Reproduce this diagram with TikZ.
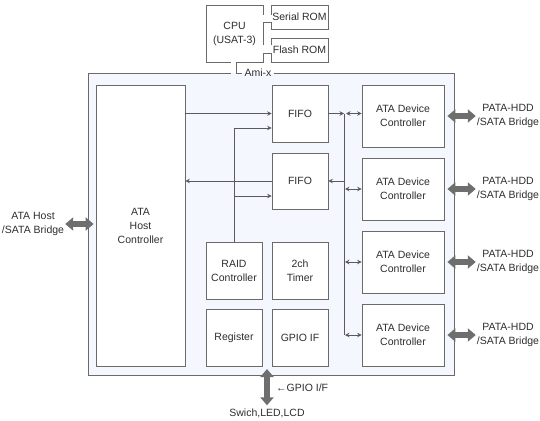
\documentclass[tikz,border=0pt]{standalone}
\usepackage{fontspec}
\setmainfont{Liberation Sans}
\usetikzlibrary{arrows.meta, positioning}
\definecolor{linec}{HTML}{5A5A5A}
\definecolor{boxc}{HTML}{6A6A6A}
\definecolor{amifill}{HTML}{F4F7FE}
\definecolor{fatc}{HTML}{6E6E6E}
\definecolor{txtc}{HTML}{2E2E2E}
\begin{document}
\begin{tikzpicture}[x=1pt, y=-1pt, >={Stealth[length=4.5pt,width=4.5pt,inset=1.6pt]},
  font=\fontsize{10.5}{14}\selectfont, text=txtc,
  blk/.style={draw=boxc, line width=.8pt, fill=white, align=center, inner sep=0pt},
  chan/.style={draw=boxc, line width=.8pt, fill=white},
  sig/.style={draw=linec, line width=.7pt, ->},
  bidir/.style={draw=linec, line width=.7pt, <->},
  fat/.style={draw=fatc, line width=5.5pt, {Triangle[length=8pt,width=13pt]}-{Triangle[length=8pt,width=13pt]}},
  lbl/.style={align=center, inner sep=1pt}]
\useasboundingbox (0,0) rectangle (540,420);

\node[blk, fill=amifill, minimum width=366pt, minimum height=302pt] (amix) at (271,224) {};

% CPU and ROMs
\node[blk, minimum width=57pt, minimum height=57pt] (cpu) at (234.5,33.5) {CPU\\(USAT-3)};
\node[blk, minimum width=57pt, minimum height=24pt] (srom) at (299.5,17) {Serial ROM};
\node[blk, minimum width=57pt, minimum height=24pt] (from) at (299.5,50) {Flash ROM};
\draw[chan] (263,15) rectangle (271,22);
\fill[white] (262.4,15.4) rectangle (271.6,21.6);
\draw[chan] (263,45) rectangle (271,53);
\fill[white] (262.4,45.4) rectangle (271.6,52.6);
\draw[chan] (231,62) rectangle (236,73);
\fill[white] (231.4,61.6) rectangle (235.6,73);
\fill[amifill] (231.4,73) rectangle (235.6,73.6);
\node[inner xsep=3pt, inner ysep=1pt, fill=amifill,
  path picture={\fill[white] (path picture bounding box.north west) rectangle (path picture bounding box.east);}]
  (amixlbl) at (258,73) {Ami-x};

% blocks
\node[blk, minimum width=89pt, minimum height=281pt] (host) at (140.5,225.5) {ATA\\Host\\Controller};
\node[blk, minimum width=56pt, minimum height=57pt] (fifoA) at (300,113.5) {FIFO};
\node[blk, minimum width=56pt, minimum height=56pt] (fifoB) at (300,181) {FIFO};
\node[blk, minimum width=56pt, minimum height=57pt] (raid) at (234,270.5) {RAID\\Controller};
\node[blk, minimum width=56pt, minimum height=57pt] (timer) at (300,270.5) {2ch\\Timer};
\node[blk, minimum width=56pt, minimum height=57pt] (reg) at (234,337.5) {Register};
\node[blk, minimum width=56pt, minimum height=57pt] (gpio) at (300,337.5) {GPIO IF};
\foreach \i/\y in {1/116,2/189,3/262,4/335}{
  \node[blk, minimum width=82pt, minimum height=62pt] (dc\i) at (403,\y) {ATA Device\\Controller};
  \node[lbl] (hdd\i) at (508,\y) {PATA-HDD\\/SATA Bridge};
  \draw[fat, shorten <=3pt] (dc\i.east) -- (hdd\i.west);
}

% outside
\node[lbl] (hostlbl) at (33,224) {ATA Host\\/SATA Bridge};
\draw[fat, shorten >=2pt] (hostlbl.east) -- (hostlbl.east -| host.west);
\coordinate (gpiobus) at (267,369);
\node[lbl] (swich) at (267,413) {Swich,LED,LCD};
\draw[fat, shorten >=2pt] (gpiobus) -- (gpiobus |- swich.north);
\node[anchor=west, inner sep=0pt] (gpiolbl) at (276,388) {←GPIO I/F};

% signals
\coordinate (busx) at (344,0);
\draw[sig] (fifoA.west -| host.east) -- (fifoA.west);
\draw[sig] (fifoB.west) -- (fifoB.west -| host.east);
\draw[sig] (raid.north) |- ([yshift=-14.5pt]fifoA.west);
\draw[sig] (raid.north) |- ([yshift=-15pt]fifoB.west);
\draw[sig] (fifoA.east) -- (fifoA.east -| busx);
\draw[draw=linec, line width=.7pt] (fifoA.east -| busx) -- (dc4.west -| busx);
\draw[sig] (fifoB.east -| busx) -- (fifoB.east);
\draw[bidir, shorten <=2pt] (fifoA.east -| busx) -- (fifoA.east -| dc1.west);
\foreach \i in {2,3,4}
  \draw[bidir, shorten <=1pt] (dc\i.west -| busx) -- (dc\i.west);

\end{tikzpicture}
\end{document}
